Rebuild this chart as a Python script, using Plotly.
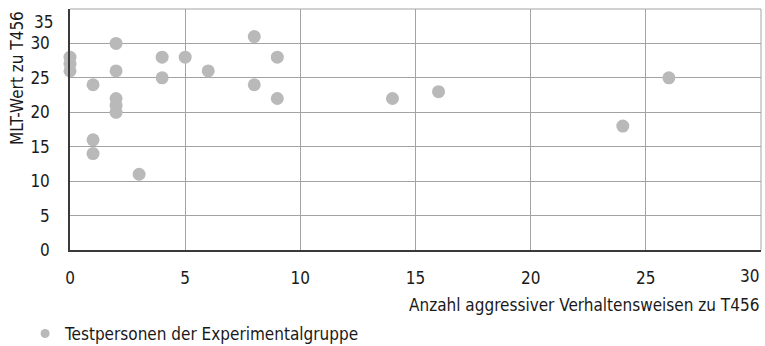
import plotly.graph_objects as go

x_vals = [0, 0, 0, 1, 1, 1, 2, 2, 2, 2, 2, 3, 4, 4, 5, 6, 8, 8, 9, 9, 14, 16, 24, 26]
y_vals = [28, 27, 26, 24, 16, 14, 30, 26, 22, 21, 20, 11, 28, 25, 28, 26, 31, 24, 28, 22, 22, 23, 18, 25]
x_ticks = [0, 5, 10, 15, 20, 25, 30]
y_ticks = [0, 5, 10, 15, 20, 25, 30, 35]
series_name = "Testpersonen der Experimentalgruppe"
x_title = "Anzahl aggressiver Verhaltensweisen zu T456"
y_title = "MLT-Wert zu T456"

FONT = "DejaVu Sans Condensed, DejaVu Sans, sans-serif"
FS = 17
MARKER_COLOR = "#b9b9b9"
GRID = "#a3a3a3"

W, H = 765, 346

fig = go.Figure()
fig.add_trace(go.Scatter(x=x_vals, y=y_vals, mode="markers",
                         marker=dict(size=13, color=MARKER_COLOR),
                         showlegend=False, cliponaxis=False))
fig.add_trace(go.Scatter(x=[None], y=[None], mode="markers", name=series_name,
                         marker=dict(size=9, color=MARKER_COLOR), showlegend=True))

fig.update_layout(
    width=W, height=H,
    margin=dict(l=70, r=4, t=9, b=96, autoexpand=False),
    plot_bgcolor="white", paper_bgcolor="white",
    font=dict(family=FONT, size=FS, color="#1a1a1a"),
    xaxis=dict(range=[0, 30], tickvals=x_ticks[:-1], showgrid=True, gridcolor=GRID, gridwidth=1,
               showline=True, linecolor="#3a3a3a", linewidth=1.5, zeroline=False,
               ticks="", ticklabelstandoff=12, automargin=False),
    yaxis=dict(range=[0, 35], tickvals=y_ticks[:-1], showgrid=True, gridcolor=GRID, gridwidth=1,
               showline=True, linecolor="#3a3a3a", linewidth=1.5, zeroline=False,
               ticks="", ticklabelstandoff=15, automargin=False),
    legend=dict(orientation="h", xref="paper", yref="paper",
                x=-0.065, y=-0.3485, xanchor="left", yanchor="middle",
                font=dict(size=FS), itemwidth=30, bgcolor="rgba(0,0,0,0)"),
    shapes=[
        dict(type="line", xref="paper", yref="paper", x0=1, x1=1, y0=0, y1=1,
             line=dict(color=GRID, width=1)),
        dict(type="line", xref="paper", yref="paper", x0=0, x1=1, y0=1, y1=1,
             line=dict(color=GRID, width=1)),
    ],
)
fig.add_annotation(text=y_title, textangle=-90, xref="paper", yref="paper",
                   x=-0.0767, y=0.714, xanchor="center", yanchor="middle",
                   showarrow=False, font=dict(size=FS))
fig.add_annotation(text=x_title, xref="paper", yref="paper", x=1, y=-0.227,
                   xanchor="right", yanchor="middle", showarrow=False, font=dict(size=FS))
# end tick labels kept inside the page, as in the reference
fig.add_annotation(text=str(y_ticks[-1]), xref="paper", yref="y", x=0, y=y_ticks[-1],
                   xanchor="right", yanchor="top", xshift=-15, yshift=-1,
                   showarrow=False, font=dict(size=FS))
fig.add_annotation(text=str(x_ticks[-1]), xref="x", yref="paper", x=x_ticks[-1], y=0,
                   xanchor="right", yanchor="top", yshift=-14,
                   showarrow=False, font=dict(size=FS))

fig.write_html("out.html", config={"displayModeBar": False},
               post_script="document.body.style.margin='0';document.body.style.overflow='hidden';")
